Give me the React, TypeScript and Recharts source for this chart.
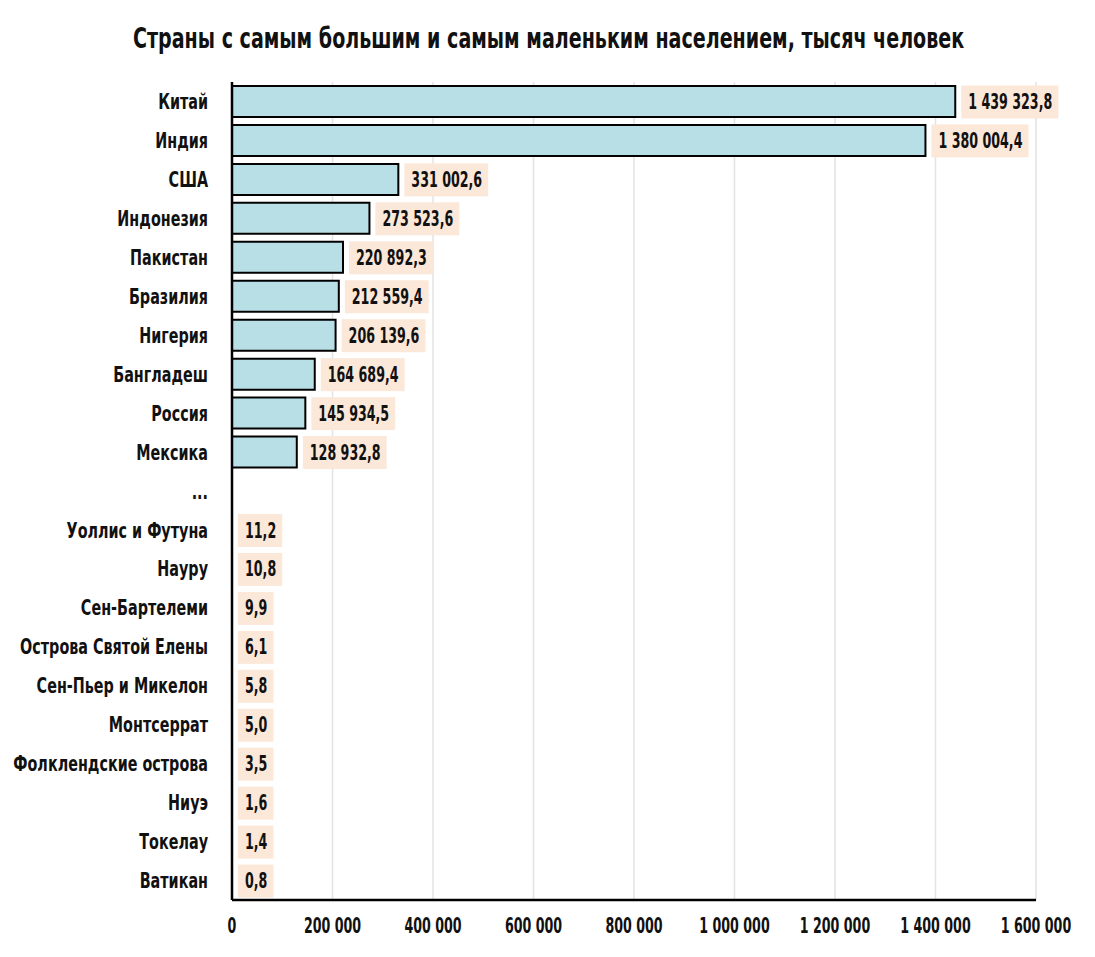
import React from "react";
import { BarChart, Bar, XAxis, YAxis, CartesianGrid, LabelList } from "recharts";

const countries = [
  "Китай",
  "Индия",
  "США",
  "Индонезия",
  "Пакистан",
  "Бразилия",
  "Нигерия",
  "Бангладеш",
  "Россия",
  "Мексика",
  "...",
  "Уоллис и Футуна",
  "Науру",
  "Сен-Бартелеми",
  "Острова Святой Елены",
  "Сен-Пьер и Микелон",
  "Монтсеррат",
  "Фолклендские острова",
  "Ниуэ",
  "Токелау",
  "Ватикан",
];

const population = [
  1439323.8, 1380004.4, 331002.6, 273523.6, 220892.3, 212559.4, 206139.6,
  164689.4, 145934.5, 128932.8, null, 11.2, 10.8, 9.9, 6.1, 5.8, 5.0, 3.5,
  1.6, 1.4, 0.8,
];

const xTicks = [0, 200000, 400000, 600000, 800000, 1000000, 1200000, 1400000, 1600000];

const data = countries.map((name, i) => ({ name, value: population[i] }));

const FONT = "'DejaVu Sans', sans-serif";
const TEXT = "#111";
// the original uses a narrow bold font, so texts get squeezed horizontally
const SX_CAT = 0.76;
const SX_VAL = 0.67;
const SX_TICK = 0.67;
const SX_TITLE = 0.757;

// 1439323.8 -> "1 439 323,8"
const groupThousands = (s: string) => s.replace(/\B(?=(\d{3})+(?!\d))/g, " ");
const fmtValue = (v: number) => {
  const [int, dec] = v.toFixed(1).split(".");
  return groupThousands(int) + "," + dec;
};
const fmtTick = (v: number) => groupThousands(String(v));

let ctx: CanvasRenderingContext2D | null = null;
const measure = (s: string, size: number) => {
  if (!ctx) ctx = document.createElement("canvas").getContext("2d");
  if (!ctx) return s.length * size * 0.55;
  ctx.font = `bold condensed ${size}px ${FONT}`;
  (ctx as any).fontStretch = "condensed";
  return ctx.measureText(s).width;
};

const NarrowText = ({ x, y, anchor, size, dy, sx, children }: any) => (
  <text
    transform={`translate(${x},${y}) scale(${sx},1)`}
    textAnchor={anchor}
    dy={dy}
    fontSize={size}
    fontFamily={FONT}
    fontWeight="bold"
    fontStretch="condensed"
    fill={TEXT}
  >
    {children}
  </text>
);

const YTick = ({ x, y, payload }: any) => (
  <NarrowText x={x} y={y} anchor="end" size={21} dy="0.36em" sx={SX_CAT}>
    {payload.value}
  </NarrowText>
);

const XTick = ({ x, y, payload }: any) => (
  <NarrowText x={x} y={y} anchor="middle" size={21} dy="0.72em" sx={SX_TICK}>
    {fmtTick(payload.value)}
  </NarrowText>
);

const ValueLabel = (props: any) => {
  const { x, y, width, height, value } = props;
  if (value == null) return null;
  const text = fmtValue(value);
  const size = 21;
  const w = measure(text, size) * SX_VAL + 13;
  const bx = x + width + 6;
  const cy = y + height / 2;
  return (
    <g>
      <rect x={bx} y={cy - 16} width={w} height={33} fill="#fbe8d9" />
      <NarrowText x={bx + 7} y={cy} anchor="start" size={size} dy="0.36em" sx={SX_VAL}>
        {text}
      </NarrowText>
    </g>
  );
};

export default function App() {
  return (
    <div style={{ position: "absolute", left: 0, top: 0, width: 1095, height: 957, background: "#fff" }}>
      <div
        style={{
          position: "absolute",
          left: 0,
          top: 22,
          width: 1095,
          textAlign: "center",
          fontFamily: FONT,
          fontWeight: "bold",
          fontStretch: "condensed",
          fontSize: 28,
          color: TEXT,
          transform: `scaleX(${SX_TITLE})`,
          whiteSpace: "nowrap",
        }}
      >
        Страны с самым большим и самым маленьким населением, тысяч человек
      </div>
      <div style={{ position: "absolute", left: 0, top: 0 }}>
        <BarChart
          width={1095}
          height={957}
          data={data}
          layout="vertical"
          margin={{ top: 82, right: 59, bottom: 17, left: 0 }}
          barSize={31}
        >
          <CartesianGrid horizontal={false} stroke="#e3e3e3" strokeWidth={1.5} />
          <XAxis
            type="number"
            domain={[0, 1600000]}
            ticks={xTicks}
            axisLine={{ stroke: "#000", strokeWidth: 2.5 }}
            tickLine={false}
            tick={<XTick />}
            tickMargin={12}
            height={40}
            interval={0}
          />
          <YAxis
            type="category"
            dataKey="name"
            width={232}
            axisLine={{ stroke: "#000", strokeWidth: 2.5 }}
            tickLine={false}
            tick={<YTick />}
            tickMargin={18}
            interval={0}
          />
          <Bar
            dataKey="value"
            fill="#b9dfe6"
            stroke="#000"
            strokeWidth={2}
            isAnimationActive={false}
          >
            <LabelList dataKey="value" content={ValueLabel} />
          </Bar>
        </BarChart>
      </div>
    </div>
  );
}
